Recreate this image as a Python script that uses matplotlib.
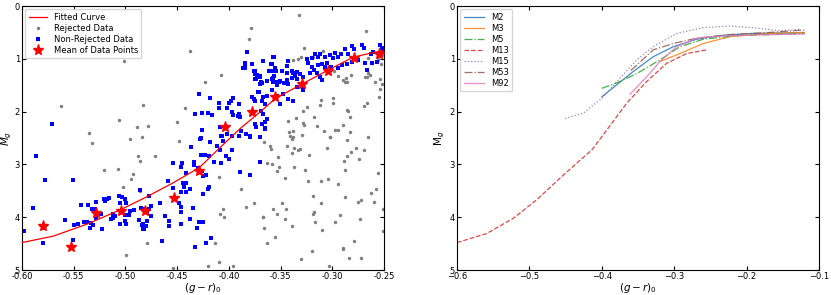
import numpy as np
import matplotlib
matplotlib.use('Agg')
import matplotlib.pyplot as plt

# ---- left panel data ----
rejected = [
    (-0.4375, 0.85), (-0.501, 1.05), (-0.562, 1.89), (-0.506, 2.15), (-0.483, 1.875),
    (-0.489, 2.29), (-0.478, 2.27), (-0.535, 2.40), (-0.532, 2.59), (-0.496, 2.52),
    (-0.484, 2.49), (-0.450, 2.19), (-0.442, 1.94), (-0.448, 2.56), (-0.423, 1.44),
    (-0.408, 1.31), (-0.381, 0.63), (-0.379, 0.42), (-0.332, 0.17), (-0.267, 0.47),
    (-0.471, 2.84), (-0.486, 2.94), (-0.4095, 3.23), (-0.3885, 3.46), (-0.383, 3.81),
    (-0.376, 3.73), (-0.406, 3.84), (-0.4085, 3.93), (-0.405, 4.00), (-0.367, 4.00),
    (-0.479, 4.48), (-0.4135, 4.48), (-0.410, 4.85), (-0.420, 4.92), (-0.396, 4.92),
    (-0.454, 4.96), (-0.521, 3.11), (-0.5075, 3.08), (-0.4925, 3.19), (-0.4945, 3.27),
    (-0.5026, 3.42), (-0.486, 3.50), (-0.4995, 4.72), (-0.4875, 2.85),
    (-0.3408, 2.46), (-0.3386, 2.51), (-0.3021, 2.475), (-0.366, 2.58), (-0.2854, 2.54),
    (-0.2657, 2.49), (-0.3592, 2.70), (-0.3367, 2.68), (-0.3334, 2.73), (-0.3312, 2.71),
    (-0.3392, 2.79), (-0.3221, 2.83), (-0.3053, 2.68), (-0.2821, 2.77), (-0.2773, 2.68),
    (-0.2692, 2.73), (-0.286, 2.85), (-0.2883, 2.94), (-0.2738, 2.90), (-0.3527, 2.86),
    (-0.3634, 2.98), (-0.358, 2.99), (-0.3515, 3.05), (-0.3531, 3.125), (-0.3367, 3.04),
    (-0.3263, 3.11), (-0.3457, 3.26), (-0.3231, 3.31), (-0.3111, 3.31), (-0.3044, 3.27),
    (-0.2947, 3.38), (-0.2876, 3.11), (-0.2554, 3.17), (-0.2576, 3.47), (-0.2625, 3.55),
    (-0.2596, 3.71), (-0.2721, 3.68), (-0.2753, 3.71), (-0.2876, 3.62), (-0.3189, 3.60),
    (-0.3111, 3.74), (-0.3173, 3.91), (-0.3189, 3.94), (-0.3164, 4.10), (-0.3101, 4.25),
    (-0.3483, 3.74), (-0.3576, 3.84), (-0.3537, 3.93), (-0.3447, 3.85), (-0.3457, 4.04),
    (-0.3672, 4.00), (-0.3657, 4.20), (-0.3634, 4.48), (-0.3553, 4.375), (-0.3386, 4.17),
    (-0.2925, 3.96), (-0.2973, 4.09), (-0.2731, 4.04), (-0.2510, 3.84), (-0.2510, 4.26),
    (-0.2786, 4.45), (-0.2893, 4.61), (-0.2898, 4.58), (-0.2835, 4.78), (-0.2724, 4.78),
    (-0.3195, 4.64), (-0.3305, 4.79), (-0.3028, 4.92),
    (-0.327, 0.795), (-0.3086, 0.85), (-0.3118, 0.89), (-0.3183, 0.96), (-0.3305, 0.97),
    (-0.3328, 1.00), (-0.3382, 1.02), (-0.265, 0.99), (-0.2554, 0.985), (-0.2515, 0.92),
    (-0.2618, 1.085), (-0.2531, 1.10), (-0.2657, 1.275), (-0.2683, 1.34), (-0.2586, 1.445),
    (-0.2538, 1.38), (-0.2515, 1.48), (-0.2538, 1.57), (-0.2544, 1.73), (-0.2667, 1.84),
    (-0.2693, 1.89), (-0.2983, 1.225), (-0.2941, 1.32), (-0.2867, 1.37), (-0.2821, 1.30),
    (-0.2876, 1.445), (-0.3108, 1.78), (-0.3118, 1.87), (-0.3241, 1.92), (-0.2995, 1.84),
    (-0.2844, 1.99), (-0.2828, 2.11), (-0.2893, 2.25), (-0.2941, 2.35), (-0.2973, 2.35),
    (-0.3286, 1.99), (-0.3286, 2.22), (-0.3176, 2.11), (-0.315, 2.27), (-0.3079, 2.37),
    (-0.3021, 2.475), (-0.3382, 2.36), (-0.3414, 2.39), (-0.3376, 2.475), (-0.2828, 2.39),
    (-0.343, 2.18), (-0.344, 2.66), (-0.335, 2.13), (-0.327, 2.25), (-0.329, 2.44),
    (-0.360, 2.66), (-0.2625, 1.075), (-0.256, 1.02), (-0.2667, 1.34), (-0.2634, 1.31),
    (-0.2893, 1.40), (-0.286, 1.43), (-0.2992, 1.74), (-0.2857, 1.97),
]

non_rejected = [
    (-0.571, 2.23), (-0.382, 0.865), (-0.384, 1.11), (-0.384, 1.17), (-0.378, 1.10),
    (-0.367, 1.035), (-0.375, 1.24), (-0.375, 1.29), (-0.370, 1.33), (-0.374, 1.38),
    (-0.368, 1.46), (-0.429, 1.67), (-0.418, 1.74), (-0.396, 1.74), (-0.398, 1.79),
    (-0.400, 1.84), (-0.410, 1.84), (-0.410, 1.93), (-0.390, 1.86), (-0.402, 1.93),
    (-0.378, 1.72), (-0.376, 1.76), (-0.375, 1.79), (-0.371, 1.63), (-0.372, 1.62),
    (-0.367, 1.72), (-0.368, 1.80), (-0.433, 2.045), (-0.426, 2.03), (-0.420, 2.03),
    (-0.416, 2.06), (-0.397, 2.01), (-0.396, 2.06), (-0.390, 2.045), (-0.389, 2.11),
    (-0.391, 2.08), (-0.369, 1.98), (-0.375, 2.23), (-0.374, 2.29), (-0.365, 2.20),
    (-0.365, 2.31), (-0.4085, 2.30), (-0.426, 2.35), (-0.427, 2.50), (-0.407, 2.46),
    (-0.402, 2.42), (-0.388, 2.36), (-0.383, 2.42), (-0.3795, 2.475), (-0.390, 2.46),
    (-0.370, 2.49), (-0.428, 2.51), (-0.418, 2.58), (-0.408, 2.46), (-0.406, 2.56),
    (-0.397, 2.46), (-0.380, 2.46), (-0.437, 2.67), (-0.411, 2.65), (-0.4085, 2.73),
    (-0.397, 2.73), (-0.403, 2.84), (-0.400, 2.90), (-0.414, 2.95), (-0.408, 2.97),
    (-0.427, 2.83), (-0.423, 2.83), (-0.419, 2.84), (-0.454, 2.97), (-0.445, 2.98),
    (-0.446, 3.05), (-0.441, 3.16), (-0.434, 2.95), (-0.430, 3.06), (-0.434, 3.02),
    (-0.4295, 3.09), (-0.426, 3.125), (-0.422, 3.21), (-0.425, 3.22), (-0.389, 3.14),
    (-0.3795, 3.20), (-0.370, 2.95), (-0.4585, 3.31), (-0.454, 3.44), (-0.444, 3.35),
    (-0.441, 3.35), (-0.443, 3.43), (-0.4375, 3.47), (-0.446, 3.52), (-0.441, 3.53),
    (-0.419, 3.43), (-0.420, 3.47), (-0.425, 3.57), (-0.4665, 3.73), (-0.486, 3.48),
    (-0.477, 3.60), (-0.4755, 3.79), (-0.477, 3.84), (-0.483, 3.84), (-0.479, 3.90),
    (-0.4755, 3.98), (-0.479, 4.07), (-0.480, 4.17), (-0.484, 4.15), (-0.482, 4.23),
    (-0.462, 3.98), (-0.4575, 4.07), (-0.4575, 4.17), (-0.448, 3.73), (-0.446, 3.81),
    (-0.446, 3.90), (-0.446, 4.12), (-0.435, 3.82), (-0.4375, 4.04), (-0.4285, 4.09),
    (-0.425, 4.09), (-0.431, 4.21), (-0.4175, 4.40), (-0.422, 4.49), (-0.465, 4.45),
    (-0.433, 4.56), (-0.586, 2.85), (-0.5775, 3.30), (-0.5504, 3.30), (-0.5897, 3.82),
    (-0.5584, 4.06), (-0.598, 4.26), (-0.5787, 4.20), (-0.580, 4.48), (-0.5497, 4.15),
    (-0.5455, 4.135), (-0.540, 4.09), (-0.5374, 4.10), (-0.5336, 4.11), (-0.5316, 4.15),
    (-0.5342, 4.20), (-0.5504, 4.44), (-0.5433, 3.76), (-0.5365, 3.76), (-0.5326, 3.84),
    (-0.5294, 3.84), (-0.5284, 3.71), (-0.5236, 3.93), (-0.5287, 4.01), (-0.5223, 4.22),
    (-0.5204, 3.66), (-0.518, 3.65), (-0.5156, 3.64), (-0.5197, 3.69), (-0.5059, 3.60),
    (-0.5036, 3.62), (-0.5004, 3.66), (-0.4994, 3.73), (-0.5052, 3.73), (-0.5117, 3.93),
    (-0.5123, 4.01), (-0.5142, 4.03), (-0.510, 3.98), (-0.5052, 4.12), (-0.5004, 4.07),
    (-0.4994, 4.13), (-0.4955, 3.88), (-0.4917, 3.87), (-0.4868, 4.06), (-0.4833, 4.13),
    (-0.4827, 4.23), (-0.4852, 3.82), (-0.481, 3.90), (-0.497, 3.95), (-0.500, 3.96),
    (-0.3843, 1.085), (-0.386, 1.18), (-0.3667, 1.035), (-0.3592, 1.105), (-0.356, 0.97),
    (-0.3553, 1.18), (-0.3424, 1.04), (-0.3754, 1.24), (-0.373, 1.31), (-0.3747, 1.38),
    (-0.3698, 1.34), (-0.3688, 1.445), (-0.3585, 1.225), (-0.3537, 1.43), (-0.3579, 1.39),
    (-0.3434, 1.275), (-0.3376, 1.26), (-0.3343, 1.245), (-0.3392, 1.37), (-0.3343, 1.39),
    (-0.3279, 1.35), (-0.352, 1.43), (-0.347, 1.45), (-0.344, 1.40), (-0.357, 1.37),
    (-0.2812, 0.76), (-0.2787, 0.82), (-0.2715, 0.74), (-0.269, 0.80), (-0.2625, 0.90),
    (-0.2602, 0.865), (-0.2538, 0.74), (-0.2515, 0.80), (-0.2510, 0.865), (-0.2876, 0.82),
    (-0.2844, 0.90), (-0.2915, 0.90), (-0.2941, 0.96), (-0.2973, 0.885), (-0.3021, 0.93),
    (-0.2989, 0.99), (-0.3069, 0.96), (-0.3118, 0.90), (-0.3141, 0.96), (-0.3166, 0.91),
    (-0.3198, 0.99), (-0.3247, 1.01), (-0.3237, 1.085), (-0.3198, 1.15), (-0.3173, 1.21),
    (-0.315, 1.275), (-0.3118, 1.34), (-0.3102, 1.40), (-0.3215, 1.275), (-0.3134, 1.12),
    (-0.3069, 1.15), (-0.3011, 1.15), (-0.294, 1.18), (-0.2908, 1.12), (-0.2859, 1.10),
    (-0.2812, 1.055), (-0.2747, 1.02), (-0.2683, 1.075), (-0.2667, 1.21), (-0.2618, 1.075),
    (-0.257, 1.055), (-0.357, 0.97), (-0.3585, 1.10), (-0.3544, 1.225), (-0.3608, 1.225),
    (-0.3563, 1.32), (-0.3634, 1.425), (-0.3698, 1.48), (-0.344, 1.13), (-0.339, 1.225),
    (-0.336, 1.32), (-0.3312, 1.29), (-0.3505, 1.415), (-0.3585, 1.60), (-0.3634, 1.70),
    (-0.3682, 1.79), (-0.365, 1.86), (-0.3537, 1.70), (-0.3473, 1.67), (-0.3424, 1.76),
    (-0.3376, 1.79), (-0.3505, 1.86), (-0.3667, 2.045), (-0.3634, 2.14), (-0.3682, 2.23),
    (-0.365, 2.33), (-0.357, 1.44), (-0.353, 1.50), (-0.3343, 1.54), (-0.3295, 1.51),
    (-0.3279, 1.60), (-0.3424, 1.48), (-0.3488, 1.225), (-0.310, 1.10), (-0.305, 1.08),
]

mean_x = [-0.5794, -0.5526, -0.5284, -0.5046, -0.481, -0.4527, -0.4285,
          -0.4037, -0.3773, -0.3553, -0.3295, -0.3044, -0.2789, -0.2547]
mean_y = [4.17, 4.555, 3.92, 3.89, 3.89, 3.64, 3.125,
          2.30, 2.00, 1.72, 1.48, 1.225, 0.99, 0.90]

fit_x = [-0.600, -0.570, -0.537, -0.505, -0.481, -0.454, -0.4285, -0.4085,
         -0.389, -0.370, -0.355, -0.3295, -0.305, -0.280, -0.260, -0.250]
fit_y = [4.48, 4.36, 4.13, 3.86, 3.63, 3.35, 3.06, 2.68,
         2.32, 2.01, 1.75, 1.48, 1.225, 0.97, 0.88, 0.85]

# ---- right panel: fiducial curves of each cluster ----
clusters = ['M2', 'M3', 'M5', 'M13', 'M15', 'M53', 'M92']
styles = ['-', '-', '-.', '--', ':', '-.', '-']
curve_x = {
    'M2': [-0.400, -0.3565, -0.3289, -0.3012, -0.269, -0.2367, -0.1907, -0.1203],
    'M3': [-0.3196, -0.292, -0.2598, -0.2229, -0.1677, -0.1203],
    'M5': [-0.400, -0.3749, -0.3518, -0.3196, -0.292, -0.2598, -0.2137, -0.1203],
    'M13': [-0.600, -0.559, -0.5222, -0.4899, -0.4577, -0.430, -0.414, -0.3932,
            -0.3656, -0.338, -0.3104, -0.2827, -0.2551],
    'M15': [-0.4508, -0.4255, -0.4001, -0.3749, -0.3518, -0.3289, -0.2966, -0.2598,
            -0.2229, -0.1907, -0.1539, -0.1262],
    'M53': [-0.360, -0.3518, -0.3289, -0.3012, -0.269, -0.2229, -0.1677, -0.1203],
    'M92': [-0.361, -0.338, -0.3196, -0.2966, -0.269, -0.2367, -0.1907, -0.1203],
}
curve_y = {
    'M2': [1.72, 1.24, 0.96, 0.77, 0.63, 0.56, 0.52, 0.505],
    'M3': [1.05, 0.90, 0.71, 0.58, 0.52, 0.50],
    'M5': [1.56, 1.43, 1.28, 1.02, 0.77, 0.63, 0.56, 0.52],
    'M13': [4.48, 4.31, 4.02, 3.67, 3.26, 2.92, 2.73, 2.35,
            1.84, 1.43, 1.085, 0.90, 0.83],
    'M15': [2.13, 2.03, 1.75, 1.37, 1.02, 0.77, 0.52, 0.41,
            0.38, 0.41, 0.47, 0.44],
    'M53': [1.22, 1.12, 0.83, 0.71, 0.61, 0.54, 0.50, 0.455],
    'M92': [1.67, 1.34, 1.05, 0.77, 0.61, 0.57, 0.55, 0.53],
}

rej = np.array(rejected)
nrej = np.array(non_rejected)

fig = plt.figure(figsize=(8.31, 2.95), dpi=100)
ax1 = fig.add_axes([22 / 831, 25 / 295, 362 / 831, 264 / 295])
ax2 = fig.add_axes([457 / 831, 25 / 295, 362 / 831, 264 / 295])

ax1.plot(fit_x, fit_y, color='red', lw=0.9, label='Fitted Curve', zorder=3)
ax1.plot(rej[:, 0], rej[:, 1], 'o', color='gray', ms=2.5, mew=0, label='Rejected Data', zorder=1)
ax1.plot(nrej[:, 0], nrej[:, 1], 's', color='blue', ms=3.0, mew=0, label='Non-Rejected Data', zorder=2)
ax1.plot(mean_x, mean_y, '*', color='red', ms=8, label='Mean of Data Points', zorder=4)
ax1.set_xlim(-0.60, -0.25)
ax1.set_ylim(5, 0)
ax1.set_xticks(np.arange(-0.60, -0.249, 0.05))
ax1.xaxis.set_major_formatter(matplotlib.ticker.FormatStrFormatter('%.2f'))
ax1.set_xlabel('$(g-r)_0$', fontsize=7.5, labelpad=0)
ax1.set_ylabel('$M_g$', fontsize=7.5)
ax1.yaxis.set_label_coords(-0.021, 0.5)
ax1.legend(loc='upper left', fontsize=6, handlelength=2.2, borderpad=0.4,
           labelspacing=0.25, borderaxespad=0.4)

for name, ls in zip(clusters, styles):
    ax2.plot(curve_x[name], curve_y[name], ls, lw=0.9, alpha=0.85, label=name)
ax2.set_xlim(-0.6, -0.1)
ax2.set_ylim(5, 0)
ax2.set_xlabel('$(g-r)_0$', fontsize=7.5, labelpad=0)
ax2.set_ylabel('M$_g$', fontsize=7.5)
ax2.yaxis.set_label_coords(-0.029, 0.5)
ax2.legend(loc='upper left', fontsize=6, handlelength=2.5, borderpad=0.4,
           labelspacing=0.25, borderaxespad=0.4)

for ax in (ax1, ax2):
    ax.tick_params(direction='in', top=True, right=True, labelsize=6, length=3, pad=1.5)

fig.savefig('out.png', dpi=100)
